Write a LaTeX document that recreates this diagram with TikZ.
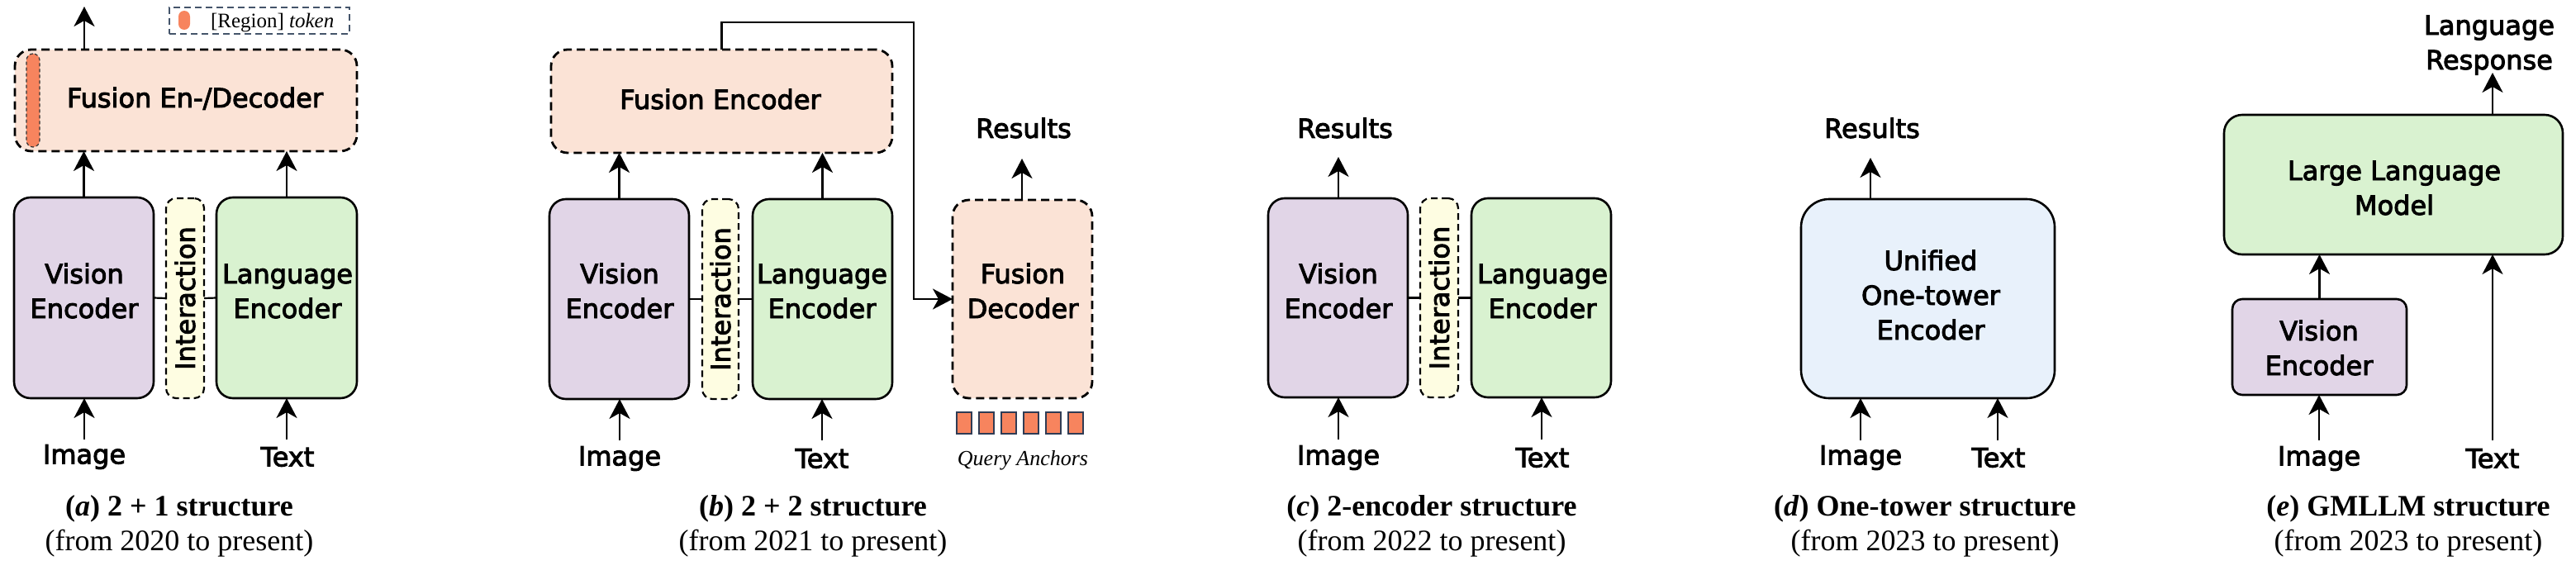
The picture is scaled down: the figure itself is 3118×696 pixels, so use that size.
\documentclass[tikz,border=0pt]{standalone}
\usepackage{fontspec}
\setmainfont{Liberation Serif}
\newfontfamily\lblfont[FakeBold=3]{DejaVu Sans}
\usetikzlibrary{fit,arrows.meta}
\definecolor{cpur}{HTML}{E1D5E7}
\definecolor{cgrn}{HTML}{D9F2D0}
\definecolor{cyel}{HTML}{FEFDE2}
\definecolor{cpea}{HTML}{FBE3D6}
\definecolor{corg}{HTML}{F7845E}
\definecolor{cblu}{HTML}{E8F1FB}
\definecolor{cleg}{HTML}{44546A}
\definecolor{canc}{HTML}{2F3C55}
\newcommand\stack[1]{\begin{tabular}[t]{@{}c@{}}#1\end{tabular}}
\tikzset{
  every node/.style={inner sep=0pt, outer sep=0pt},
  lbl/.style={font=\fontsize{16}{21}\selectfont\lblfont, align=center},
  intext/.style={lbl, anchor=base},
  captxt/.style={font=\fontsize{18}{21}\selectfont, align=center},
  box/.style={draw, line width=1.3pt, rounded corners=10pt},
  dbox/.style={box, line width=1.4pt, dash pattern=on 5pt off 3pt},
  ibox/.style={draw, line width=1.1pt, rounded corners=6pt, fill=cyel, dash pattern=on 4pt off 2.5pt},
  vis/.style={box, fill=cpur},
  lan/.style={box, fill=cgrn},
  fus/.style={dbox, fill=cpea},
  arr/.style={-{Stealth[length=12pt,width=12.5pt,inset=3.5pt]}, line width=1.1pt},
  link/.style={line width=1.1pt},
  tokbar/.style={fill=corg, draw=black!80, line width=0.6pt, dash pattern=on 2pt off 1.5pt, rounded corners=4pt},
  anc/.style={fill=corg, draw=canc, line width=0.8pt},
}
\begin{document}
\begin{tikzpicture}[x=0.5pt,y=-0.5pt]
\useasboundingbox (0,0) rectangle (3118,696);

% ---------------- (a) ----------------
\node[fus, fit={(18,60)(432,183)}] (fusA) {};
\node[intext] (fusAt) at (236,130) {Fusion En-/Decoder};
\node[tokbar, fit={(32,65)(48,178)}] (tokA) {};
\node[draw=cleg, line width=1pt, dash pattern=on 4pt off 2.5pt, fit={(205,9)(423,41)}] (legA) {};
\node[fill=corg, rounded corners=3.5pt, fit={(216,13)(230,36)}] (pillA) {};
\node[anchor=base west, font=\fontsize{12.5}{15}\selectfont] (legtxtA) at (255,33) {[Region] \textit{token}};
\node[vis, fit={(17,239)(186,482)}] (veA) {};
\node[intext] (veAt) at (102,343) {\stack{Vision\\Encoder}};
\node[ibox, fit={(201,240)(247,482)}] (itA) {};
\node[lbl, rotate=90] (ittA) at (itA.center) {Interaction};
\node[lan, fit={(262,239)(432,482)}] (leA) {};
\node[intext] (leAt) at (348,343) {\stack{Language\\Encoder}};
\draw[link] (veA.east) -- (itA.west);
\draw[link] (itA.east) -- (leA.west);
\draw[arr] (veA.north) -- (veA.north |- fusA.south);
\draw[arr] (leA.north) -- (leA.north |- fusA.south);
\coordinate (outA) at (102,8);
\draw[arr] (outA |- fusA.north) -- (outA);
\coordinate (inA1) at (102,532);
\coordinate (inA2) at (347,532);
\draw[arr] (inA1) -- (inA1 |- veA.south);
\draw[arr] (inA2) -- (inA2 |- leA.south);
\node[lbl] (imgA) at (102,553) {Image};
\node[lbl] (txtA) at (348,553) {Text};
\node[captxt] (capA) at (217,637) {\textbf{(\textit{a}) 2 + 1 structure}\\(from 2020 to present)};

% ---------------- (b) ----------------
\node[fus, fit={(667,60)(1080,185)}] (fusB) {};
\node[intext] (fusBt) at (872,132) {Fusion Encoder};
\node[vis, fit={(665,241)(834,483)}] (veB) {};
\node[intext] (veBt) at (750,343) {\stack{Vision\\Encoder}};
\node[ibox, fit={(850,241)(894,483)}] (itB) {};
\node[lbl, rotate=90] (ittB) at (itB.center) {Interaction};
\node[lan, fit={(911,241)(1080,483)}] (leB) {};
\node[intext] (leBt) at (995,343) {\stack{Language\\Encoder}};
\node[fus, fit={(1153,242)(1322,482)}] (decB) {};
\node[intext] (decBt) at (1238,343) {\stack{Fusion\\Decoder}};
\draw[link] (veB.east) -- (itB.west);
\draw[link] (itB.east) -- (leB.west);
\draw[arr] (veB.north) -- (veB.north |- fusB.south);
\draw[arr] (leB.north) -- (leB.north |- fusB.south);
\coordinate (cB) at (1106,27);
\draw[arr] (fusB.north) |- (cB) |- (decB.west);
\coordinate (outB) at (1237,192);
\draw[arr] (outB |- decB.north) -- (outB);
\node[lbl] (resB) at (1239,155) {Results};
\foreach \i in {0,...,5}{
  \node[anc, fit={(1158+27*\i,499)(1176+27*\i,525)}] (qa\i) {};
}
\node[font=\fontsize{13}{15}\selectfont\itshape] (qtxtB) at (1238,557) {Query Anchors};
\coordinate (inB1) at (750,533);
\coordinate (inB2) at (995,533);
\draw[arr] (inB1) -- (inB1 |- veB.south);
\draw[arr] (inB2) -- (inB2 |- leB.south);
\node[lbl] (imgB) at (750,555) {Image};
\node[lbl] (txtB) at (995,555) {Text};
\node[captxt] (capB) at (984,637) {\textbf{(\textit{b}) 2 + 2 structure}\\(from 2021 to present)};

% ---------------- (c) ----------------
\node[vis, fit={(1535,240)(1704,481)}] (veC) {};
\node[intext] (veCt) at (1620,343) {\stack{Vision\\Encoder}};
\node[ibox, fit={(1719,240)(1765,481)}] (itC) {};
\node[lbl, rotate=90] (ittC) at (itC.center) {Interaction};
\node[lan, fit={(1781,240)(1950,481)}] (leC) {};
\node[intext] (leCt) at (1867,343) {\stack{Language\\Encoder}};
\draw[link] (veC.east) -- (itC.west);
\draw[link] (itC.east) -- (leC.west);
\coordinate (outC) at (1620,190);
\draw[arr] (outC |- veC.north) -- (outC);
\node[lbl] (resC) at (1628,155) {Results};
\coordinate (inC1) at (1620,532);
\coordinate (inC2) at (1866,532);
\draw[arr] (inC1) -- (inC1 |- veC.south);
\draw[arr] (inC2) -- (inC2 |- leC.south);
\node[lbl] (imgC) at (1620,554) {Image};
\node[lbl] (txtC) at (1867,554) {Text};
\node[captxt] (capC) at (1733,637) {\textbf{(\textit{c}) 2-encoder structure}\\(from 2022 to present)};

% ---------------- (d) ----------------
\node[box, fill=cblu, rounded corners=17pt, fit={(2180,241)(2487,482)}] (uniD) {};
\node[intext] (uniDt) at (2337,327) {\stack{Unified\\One-tower\\Encoder}};
\coordinate (outD) at (2264,191);
\draw[arr] (outD |- uniD.north) -- (outD);
\node[lbl] (resD) at (2266,155) {Results};
\coordinate (inD1) at (2252,533);
\coordinate (inD2) at (2418,533);
\draw[arr] (inD1) -- (inD1 |- uniD.south);
\draw[arr] (inD2) -- (inD2 |- uniD.south);
\node[lbl] (imgD) at (2252,554) {Image};
\node[lbl] (txtD) at (2419,554) {Text};
\node[captxt] (capD) at (2330,637) {\textbf{(\textit{d}) One-tower structure}\\(from 2023 to present)};

% ---------------- (e) ----------------
\node[lan, rounded corners=11pt, fit={(2692,139)(3102,308)}] (llmE) {};
\node[intext] (llmEt) at (2898,218) {\stack{Large Language\\Model}};
\node[vis, rounded corners=6pt, fit={(2702,362)(2913,478)}] (veE) {};
\node[intext] (veEt) at (2807,412) {\stack{Vision\\Encoder}};
\draw[arr] (veE.north) -- (veE.north |- llmE.south);
\coordinate (outE) at (3017,88);
\draw[arr] (outE |- llmE.north) -- (outE);
\node[intext] (resE) at (3013,42) {\stack{Language\\Response}};
\coordinate (inE1) at (2807,533);
\coordinate (inE2) at (3017,533);
\draw[arr] (inE1) -- (inE1 |- veE.south);
\draw[arr] (inE2) -- (inE2 |- llmE.south);
\node[lbl] (imgE) at (2807,555) {Image};
\node[lbl] (txtE) at (3017,555) {Text};
\node[captxt] (capE) at (2915,637) {\textbf{(\textit{e}) GMLLM structure}\\(from 2023 to present)};
\end{tikzpicture}
\end{document}
